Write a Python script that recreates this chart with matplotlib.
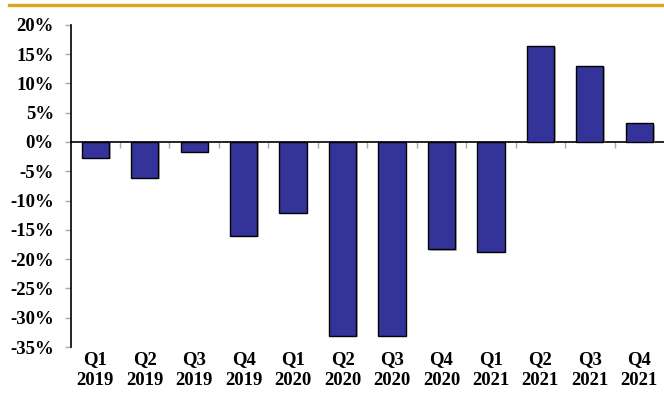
#!/usr/bin/env python3
# Quarterly year-over-year change, Q1 2019 - Q4 2021, bar chart.
import matplotlib; matplotlib.use('Agg')
import matplotlib.pyplot as plt
import matplotlib.patheffects as pe
from matplotlib.ticker import FuncFormatter, FixedLocator

quarters = ['Q1', 'Q2', 'Q3', 'Q4', 'Q1', 'Q2', 'Q3', 'Q4', 'Q1', 'Q2', 'Q3', 'Q4']
years = ['2019'] * 4 + ['2020'] * 4 + ['2021'] * 4
change_pct = [-2.7, -6.1, -1.7, -16.0, -12.1, -33.1, -33.1, -18.3, -18.8, 16.4, 13.0, 3.2]

plt.rcParams['font.family'] = ['Liberation Serif', 'DejaVu Serif']
plt.rcParams['font.weight'] = 'bold'

fig = plt.figure(figsize=(6.64, 3.96), dpi=100)
ax = fig.add_axes([0.1062, 0.1237, 0.8938, 0.8139])

x = list(range(len(change_pct)))
ax.bar(x, change_pct, width=0.55, color='#333399', edgecolor='black', linewidth=1.0, zorder=3,
       path_effects=[pe.SimplePatchShadow(offset=(1.2, -1.0), shadow_rgbFace='#888888', alpha=0.6), pe.Normal()])

ax.set_xlim(-0.5, len(change_pct) - 0.5)
ax.set_ylim(-35, 20)
ax.set_yticks(range(-35, 21, 5))
ax.yaxis.set_major_formatter(FuncFormatter(lambda v, _: f'{v:.0f}%'))
ax.tick_params(axis='y', length=4, width=1, color='#aaaaaa', pad=8, labelsize=13.5)

# zero line carries the category dividers
ax.spines['bottom'].set_position(('data', 0))
ax.spines['bottom'].set_linewidth(1.2)
ax.spines['left'].set_linewidth(1.2)
ax.spines['top'].set_visible(False)
ax.spines['right'].set_visible(False)
ax.xaxis.set_major_locator(FixedLocator([i + 0.5 for i in x[:-1]]))
ax.tick_params(axis='x', length=4, width=1, color='#aaaaaa', labelbottom=False)

sec = ax.secondary_xaxis(0)
sec.set_xticks(x)
sec.set_xticklabels([f'{q}\n{y}' for q, y in zip(quarters, years)], linespacing=1.3)
sec.tick_params(length=0, pad=3, labelsize=13.5)
sec.spines['bottom'].set_visible(False)

# gold rule across the top
fig.add_artist(plt.Line2D([9 / 664, 1], [1 - 4.5 / 396] * 2, transform=fig.transFigure,
                          color='#DBA51E', linewidth=2.4))

fig.savefig('out.png', dpi=100)
